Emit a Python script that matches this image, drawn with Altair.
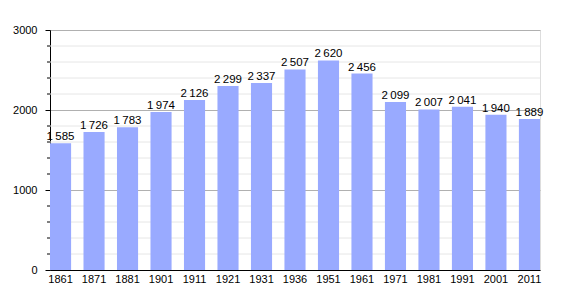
import altair as alt
import pandas as pd

years = ["1861", "1871", "1881", "1901", "1911", "1921", "1931", "1936",
         "1951", "1961", "1971", "1981", "1991", "2001", "2011"]
population = [1585, 1726, 1783, 1974, 2126, 2299, 2337, 2507,
              2620, 2456, 2099, 2007, 2041, 1940, 1889]
major_ticks = [0, 1000, 2000, 3000]
minor_ticks = [200, 400, 600, 800, 1200, 1400, 1600, 1800,
               2200, 2400, 2600, 2800]

labels = [f"{v:,}".replace(",", "\u202f") for v in population]
df = pd.DataFrame({"year": years, "pop": population, "label": labels})
minor_df = pd.DataFrame({"v": minor_ticks})

FONT = "Liberation Sans"
yscale = alt.Scale(domain=[0, 3000], nice=False)

x = alt.X("year:N", sort=years, title=None,
          scale=alt.Scale(paddingInner=0.37, paddingOuter=0),
          axis=alt.Axis(labelAngle=0, ticks=False, domainColor="black",
                        labelColor="black", labelFontSize=11, labelFont=FONT,
                        labelPadding=3))
y = alt.Y("pop:Q", title=None, scale=yscale,
          axis=alt.Axis(values=major_ticks, format="d",
                        gridColor="#b0b0b0", tickSize=5,
                        tickColor="black", domainColor="black",
                        labelColor="black", labelFontSize=11, labelFont=FONT,
                        labelPadding=8))

minor_grid = alt.Chart(minor_df).mark_rule(color="#e6e6e6").encode(
    y=alt.Y("v:Q", scale=yscale), x=alt.value(0), x2=alt.value(490))
minor_tick = alt.Chart(minor_df).mark_rule(color="black").encode(
    y=alt.Y("v:Q", scale=yscale), x=alt.value(-3), x2=alt.value(0))

bars = alt.Chart(df).mark_bar(color="#99aaff").encode(x=x, y=y)
text = alt.Chart(df).mark_text(baseline="bottom", dy=-1, fontSize=11.5, font=FONT, color="black").encode(
    x=alt.X("year:N", sort=years), y="pop:Q", text="label:N")

chart = (minor_grid + bars + text + minor_tick).properties(
    width=490, height=240,
    autosize=alt.AutoSizeParams(type="none"),
    padding={"left": 50, "top": 30, "right": 30, "bottom": 30},
).configure_view(stroke=None).configure(background="white")

chart.save("out.html", embed_options={"renderer": "svg", "actions": False})
